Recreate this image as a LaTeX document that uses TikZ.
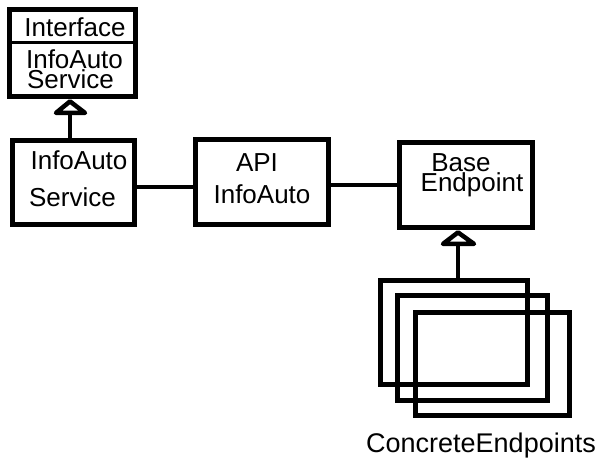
\documentclass[tikz,border=0pt]{standalone}
\usepackage{fontspec}
\setmainfont{Liberation Sans}
\begin{document}
\begin{tikzpicture}[x=1pt,y=-1pt,
  box/.style={draw=black,line width=4.8pt,rectangle,inner sep=0pt},
  lbl/.style={anchor=base,inner sep=0pt,font=\fontsize{26}{20}\selectfont},
  two/.style={anchor=north,inner sep=0pt,align=center,font=\fontsize{26}{20.5}\selectfont},
  conn/.style={draw=black,line width=4.8pt},
  tri/.style={draw=black,fill=white,line width=4.5pt,line join=round}]
\useasboundingbox (0,0) rectangle (611,465);
% boxes
\node[box,minimum width=126pt,minimum height=87pt] (iface) at (72.5,53) {};
\node[box,minimum width=122pt,minimum height=84pt] (svc) at (73.5,182.5) {};
\node[box,minimum width=133pt,minimum height=85pt] (api) at (262,182) {};
\node[box,minimum width=133pt,minimum height=85pt] (base) at (466,185) {};
\node[box,minimum width=147pt,minimum height=104pt] (c1) at (454,332.5) {};
\node[box,minimum width=150pt,minimum height=105pt] (c2) at (472.5,348) {};
\node[box,minimum width=154pt,minimum height=103pt] (c3) at (492.5,364) {};
% divider in interface box
\draw[line width=3pt] (iface.west |- 0,43) -- (iface.east |- 0,43);
% texts
\node[lbl] (t1) at (75,37) {Interface};
\node[two] (t2) at (74.5,49) {InfoAuto\\Service\hspace*{8pt}};
\node[lbl] (t4) at (79,170) {InfoAuto};
\node[lbl] (t5) at (72.5,207) {Service};
\node[lbl] (t6) at (257,172) {API};
\node[lbl] (t7) at (262,204) {InfoAuto};
\node[two] (t8) at (472,153) {Base\hspace*{22pt}\\Endpoint};
\node[lbl,font=\fontsize{27}{30}\selectfont] (t10) at (481,452) {ConcreteEndpoints};
% connectors
\draw[conn,line cap=round] (svc.east |- 0,187) -- (api.west |- 0,187);
\draw[conn] (api.east |- base.west) -- (base.west);
% inheritance arrows
\coordinate (a1) at (iface.south -| 70,0);
\coordinate (a2) at (base.south -| 458,0);
\draw[conn] (svc.north -| 70,0) -- ([yshift=-14pt]a1);
\draw[tri] ([yshift=-2.5pt]a1) -- ++(-14,11.5) -- ++(29,0) -- cycle;
\draw[conn] (c1.north -| 458,0) -- ([yshift=-14pt]a2);
\draw[tri] ([yshift=-2.5pt]a2) -- ++(-15,11.5) -- ++(31,0) -- cycle;
\end{tikzpicture}
\end{document}
